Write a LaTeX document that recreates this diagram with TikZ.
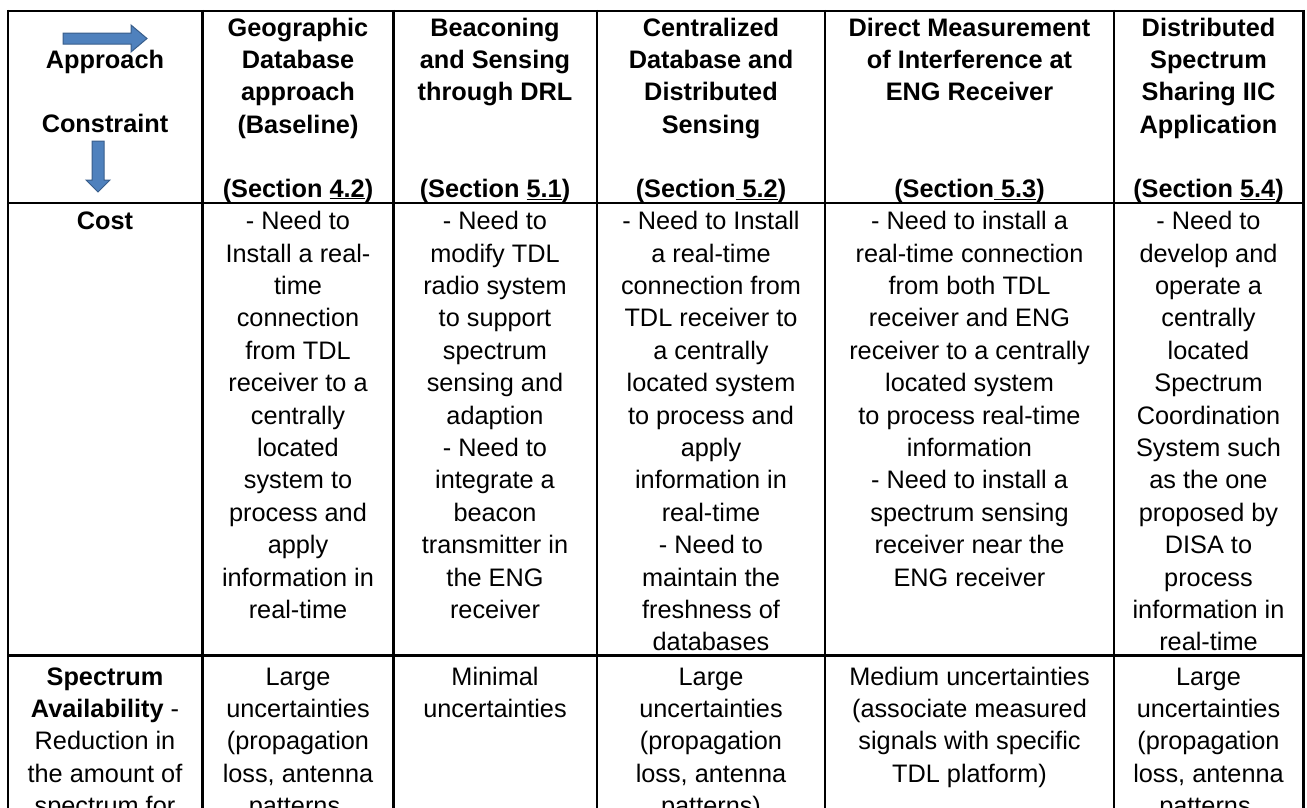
\documentclass[tikz,border=0pt]{standalone}
\usepackage{fontspec}
\setmainfont{Liberation Sans}
\definecolor{arrfill}{RGB}{79,129,189}
\definecolor{arrdraw}{RGB}{56,93,138}
\tikzset{
 cellt/.style={anchor=north, inner sep=0pt, align=center, font=\fontsize{25.3}{32.4}\selectfont},
 headt/.style={cellt, font=\fontsize{25.3}{32.4}\selectfont\bfseries},
 gridline/.style={line width=2.2pt, black},
 bluearrow/.style={fill=arrfill, draw=arrdraw, line width=1pt, line join=miter},
}
\begin{document}
\begin{tikzpicture}[x=1pt,y=-1pt]
\useasboundingbox (0,0) rectangle (1307,807);
\clip (0,0) rectangle (1307,807);
% grid
\draw[gridline] (8,11) -- (1303.5,11);
\draw[gridline] (8,203) -- (1303.5,203);
\draw[gridline] (8,655.5) -- (1303.5,655.5);
\foreach \x in {8,202.5,393.5,597,825,1114,1303.5}
  \draw[gridline] (\x,9.9) -- (\x,830);
% arrows
\draw[bluearrow] (63,33) -- (131,33) -- (131,25) -- (147,38.5) -- (131,52) -- (131,44) -- (63,44) -- cycle;
\draw[bluearrow] (92,141) -- (104,141) -- (104,180) -- (110,180) -- (98,192) -- (86,180) -- (92,180) -- cycle;
% header
\node[headt] (hA) at (105,45.3) {\strut Approach};
\node[headt] (hC) at (105,109.3) {\strut Constraint};
\node[headt] (h1) at (298,13.3) {\strut Geographic\\Database\\approach\\(Baseline)};
\node[headt] (h2) at (495,13.3) {\strut Beaconing\\and Sensing\\through DRL};
\node[headt] (h3) at (711,13.3) {\strut Centralized\\Database and\\Distributed\\Sensing};
\node[headt] (h4) at (969.5,13.3) {\strut Direct Measurement\\of Interference at\\ENG Receiver};
\node[headt] (h5) at (1208.5,13.3) {\strut Distributed\\Spectrum\\Sharing IIC\\Application};
\node[headt] (s1) at (298,174.3) {\strut (Section \underline{4.2})};
\node[headt] (s2) at (495,174.3) {\strut (Section \underline{5.1})};
\node[headt] (s3) at (711,174.3) {\strut (Section\underline{\ 5.2})};
\node[headt] (s4) at (969.5,174.3) {\strut (Section\underline{\ 5.3})};
\node[headt] (s5) at (1208.5,174.3) {\strut (Section \underline{5.4})};
% cost row
\node[headt] (c0) at (105,206.8) {\strut Cost};
\node[cellt] (c1) at (298,206.8) {\strut - Need to\\Install a real-\\time\\connection\\from TDL\\receiver to a\\centrally\\located\\system to\\process and\\apply\\information in\\real-time};
\node[cellt] (c2) at (495,206.8) {\strut - Need to\\modify TDL\\radio system\\to support\\spectrum\\sensing and\\adaption\\- Need to\\integrate a\\beacon\\transmitter in\\the ENG\\receiver};
\node[cellt] (c3) at (711,206.8) {\strut - Need to Install\\a real-time\\connection from\\TDL receiver to\\a centrally\\located system\\to process and\\apply\\information in\\real-time\\- Need to\\maintain the\\freshness of\\databases};
\node[cellt] (c4) at (969.5,206.8) {\strut - Need to install a\\real-time connection\\from both TDL\\receiver and ENG\\receiver to a centrally\\located system\\to process real-time\\information\\- Need to install a\\spectrum sensing\\receiver near the\\ENG receiver};
\node[cellt] (c5) at (1208.5,206.8) {\strut - Need to\\develop and\\operate a\\centrally\\located\\Spectrum\\Coordination\\System such\\as the one\\proposed by\\DISA to\\process\\information in\\real-time};
% spectrum availability row
\node[cellt] (a0) at (105,662.3) {\strut\textbf{Spectrum}\\\textbf{Availability} -\\Reduction in\\the amount of\\spectrum for};
\node[cellt] (a1) at (298,662.3) {\strut Large\\uncertainties\\(propagation\\loss, antenna\\patterns,};
\node[cellt] (a2) at (495,662.3) {\strut Minimal\\uncertainties};
\node[cellt] (a3) at (711,662.3) {\strut Large\\uncertainties\\(propagation\\loss, antenna\\patterns)};
\node[cellt] (a4) at (969.5,662.3) {\strut Medium uncertainties\\(associate measured\\signals with specific\\TDL platform)};
\node[cellt] (a5) at (1208.5,662.3) {\strut Large\\uncertainties\\(propagation\\loss, antenna\\patterns,};
\end{tikzpicture}
\end{document}
